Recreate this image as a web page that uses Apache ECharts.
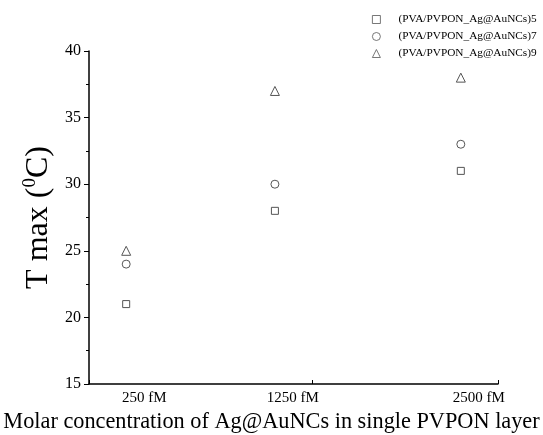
<!DOCTYPE html>
<html><head><meta charset="utf-8">
<script src="https://cdn.jsdelivr.net/npm/echarts@6/dist/echarts.min.js"></script>
<style>html,body{margin:0;padding:0;background:#fff}#c{width:543px;height:435px}</style>
</head><body><div id="c"></div>
<script>
const categories = ['250 fM', '1250 fM', '2500 fM'];
const concentrations = [250, 1250, 2500];
const seriesNames = ['(PVA/PVPON_Ag@AuNCs)5', '(PVA/PVPON_Ag@AuNCs)7', '(PVA/PVPON_Ag@AuNCs)9'];
const tmax5 = [21, 28, 31];
const tmax7 = [24, 30, 33];
const tmax9 = [25, 37, 38];

const F = '"Liberation Serif", "Times New Roman", serif';
const chart = echarts.init(document.getElementById('c'), null, {renderer: 'canvas'});
const mk = (name, vals, symbol, size) => ({
  name, type: 'scatter', symbol, symbolSize: size,
  data: concentrations.map((c, i) => [c, vals[i]]),
  itemStyle: {color: '#fff', borderColor: '#555', borderWidth: 1, opacity: 1}
});
chart.setOption({
  animation: false,
  grid: {left: 89, right: 45, top: 51, bottom: 51, outerBoundsMode: 'none', containLabel: false},
  legend: {
    orient: 'vertical', left: 367, top: 9, itemWidth: 8, itemHeight: 8, itemGap: 6,
    itemStyle: {color: '#fff', borderColor: '#555', borderWidth: 0.8},
    textStyle: {fontFamily: F, fontSize: 11.3, color: '#000', padding: [0, 0, 0, 13]},
    data: seriesNames
  },
  xAxis: {
    type: 'value', min: 0, max: 2750, interval: 1500,
    name: 'Molar concentration of Ag@AuNCs in single PVPON layer',
    nameLocation: 'middle', nameGap: 27,
    nameTextStyle: {fontFamily: F, fontSize: 22.3, color: '#000', padding: [0, 44, 0, 0]},
    axisLine: {lineStyle: {color: '#000', width: 1.5}},
    axisTick: {inside: true, length: 4, lineStyle: {color: '#000'}},
    splitLine: {show: false},
    axisLabel: {
      customValues: concentrations,
      formatter: v => categories[concentrations.indexOf(v)] || '',
      fontFamily: F, fontSize: 15, color: '#000', margin: 7, padding: [0, 0, 0, 36]
    }
  },
  yAxis: {
    type: 'value', min: 15, max: 40, interval: 5,
    name: '{a|T max (}{s|0}{a|C)}',
    nameLocation: 'middle', nameGap: 29, nameRotate: 90,
    nameTextStyle: {
      rich: {
        a: {fontFamily: F, fontSize: 32, color: '#000', lineHeight: 36},
        s: {fontFamily: F, fontSize: 19, color: '#000', verticalAlign: 'top', lineHeight: 36, padding: [0, 0, 14, 0]}
      }
    },
    axisLine: {show: true, lineStyle: {color: '#000', width: 1.5}},
    axisTick: {inside: false, length: 5, lineStyle: {color: '#000'}},
    minorTick: {show: true, splitNumber: 2, length: 3, lineStyle: {color: '#000'}},
    splitLine: {show: false},
    axisLabel: {fontFamily: F, fontSize: 16, color: '#000', margin: 8}
  },
  series: [
    mk(seriesNames[0], tmax5, 'rect', 7),
    mk(seriesNames[1], tmax7, 'circle', 8),
    mk(seriesNames[2], tmax9, 'triangle', 9)
  ]
});
</script></body></html>
